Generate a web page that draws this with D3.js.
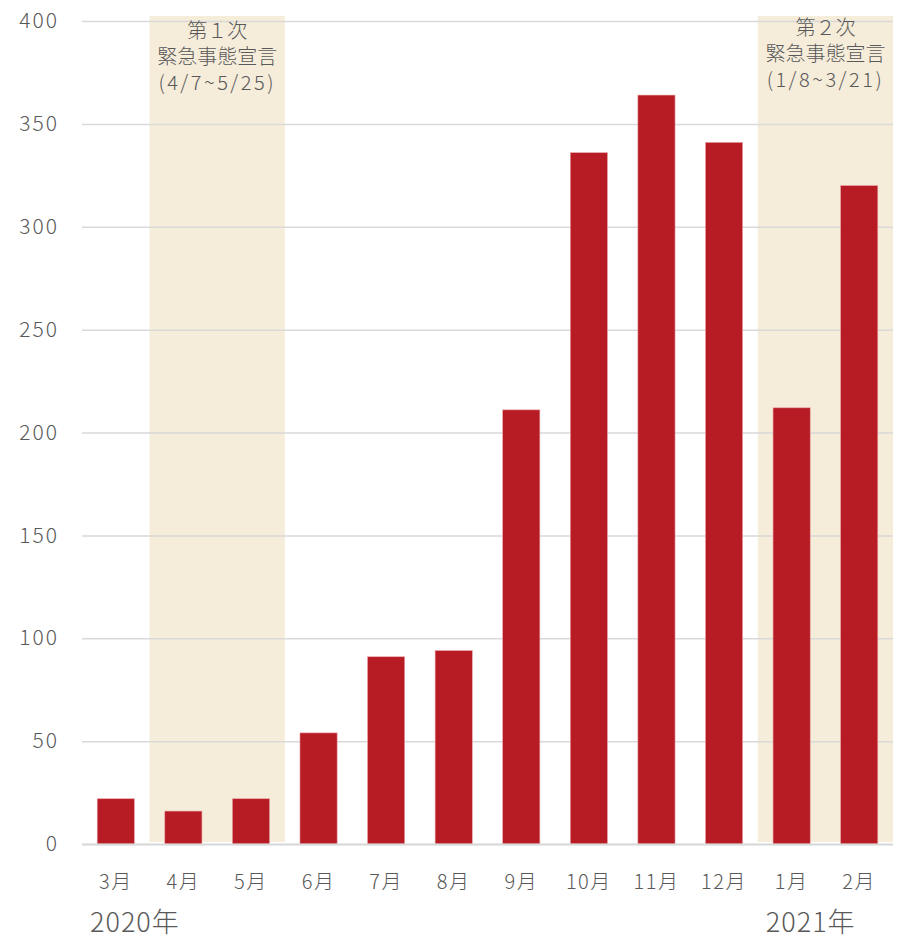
<!DOCTYPE html>
<html>
<head>
<meta charset="utf-8">
<script src="https://cdn.jsdelivr.net/npm/d3@7"></script>
<style>
  html, body { margin: 0; padding: 0; background: #ffffff; }
  svg { display: block; font-family: "Noto Sans CJK JP", "Noto Sans", sans-serif; }
</style>
</head>
<body>
<svg id="chart" width="901" height="937"></svg>
<script>
// Monthly counts, March 2020 – February 2021
const months = ["3月", "4月", "5月", "6月", "7月", "8月", "9月", "10月", "11月", "12月", "1月", "2月"];
const counts = [22, 16, 22, 54, 91, 94, 211, 336, 364, 341, 212, 320];
const yTicks = [0, 50, 100, 150, 200, 250, 300, 350, 400];

// State-of-emergency periods (first and last month covered) and their labels
const periodStart = ["4月", "1月"];
const periodEnd = ["5月", "2月"];
const periodLines = [
  ["第１次", "緊急事態宣言", "(4/7~5/25)"],
  ["第２次", "緊急事態宣言", "(1/8~3/21)"]
];

// Year markers placed under the first month of each year
const yearMonths = ["3月", "1月"];
const yearLabels = ["2020年", "2021年"];

const svg = d3.select("#chart");
const margin = { left: 82, right: 8, top: 21, bottom: 93 };
const W = 901, H = 937;
const textColor = "#595959";

const x = d3.scaleBand()
  .domain(months)
  .range([margin.left, W - margin.right])
  .paddingInner(0.45)
  .paddingOuter(0.225);

const y = d3.scaleLinear()
  .domain([0, 400])
  .range([H - margin.bottom, margin.top]);

const step = x.step();
const gap = step * x.paddingInner() / 2;

// Shaded emergency periods
const periods = periodStart.map((s, i) => ({ s, e: periodEnd[i], lines: periodLines[i] }));
svg.append("g")
  .selectAll("rect")
  .data(periods)
  .join("rect")
  .attr("x", d => x(d.s) - gap)
  .attr("width", d => x(d.e) + x.bandwidth() + gap - (x(d.s) - gap))
  .attr("y", y(400) - 5)
  .attr("height", y(0) - 2 - (y(400) - 5))
  .attr("fill", "#F5ECD9");

// Horizontal gridlines
const grid = svg.append("g")
  .attr("transform", `translate(${margin.left},0)`)
  .call(d3.axisLeft(y).tickValues(yTicks).tickSize(-(W - margin.right - margin.left)).tickFormat(""));
grid.select(".domain").remove();
grid.selectAll(".tick line").attr("stroke", "#D9D9D9").attr("stroke-width", 1.5);

// Y axis labels
const yAxis = svg.append("g")
  .attr("transform", `translate(${margin.left - 23},0)`)
  .call(d3.axisLeft(y).tickValues(yTicks).tickSize(0).tickPadding(0));
yAxis.select(".domain").remove();
yAxis.selectAll("text")
  .attr("font-size", 21)
  .attr("font-weight", 300)
  .attr("letter-spacing", 2)
  .attr("fill", textColor)
  .attr("font-family", "\"Noto Sans CJK JP\", sans-serif");

// Bars
svg.append("g")
  .selectAll("rect")
  .data(counts)
  .join("rect")
  .attr("x", (d, i) => x(months[i]))
  .attr("width", x.bandwidth())
  .attr("y", d => y(d))
  .attr("height", d => y(0) - y(d))
  .attr("fill", "#B71C24")
  .attr("stroke", "#E8A3A6")
  .attr("stroke-width", 0.6);

// Baseline
svg.append("line")
  .attr("x1", margin.left)
  .attr("x2", W - margin.right)
  .attr("y1", y(0) + 0.5)
  .attr("y2", y(0) + 0.5)
  .attr("stroke", "#D9D9D9")
  .attr("stroke-width", 2);

// X axis labels
const xAxis = svg.append("g")
  .attr("transform", `translate(0,${y(0)})`)
  .call(d3.axisBottom(x).tickSize(0).tickPadding(0));
xAxis.select(".domain").remove();
xAxis.selectAll("text")
  .attr("dy", null)
  .attr("y", 45)
  .attr("font-size", 20)
  .attr("font-weight", 300)
  .attr("letter-spacing", 1.5)
  .attr("fill", textColor)
  .attr("font-family", "\"Noto Sans CJK JP\", sans-serif");

// Year labels
svg.append("g")
  .selectAll("text")
  .data(yearLabels)
  .join("text")
  .attr("x", (d, i) => x(yearMonths[i]) - gap + 8)
  .attr("y", y(0) + 88)
  .attr("font-size", 27)
  .attr("font-weight", 300)
  .attr("letter-spacing", 1)
  .attr("fill", textColor)
  .text(d => d);

// Period annotations, one text per line
const annLines = periods.flatMap((d, i) => d.lines.map((t, j) => ({
  t, j, i, cx: (x(d.s) + x(d.e) + x.bandwidth()) / 2
})));
svg.append("g")
  .selectAll("text")
  .data(annLines)
  .join("text")
  .attr("x", d => d.cx)
  .attr("y", d => (d.i === 0 ? 38 : 35) + d.j * 26)
  .attr("text-anchor", "middle")
  .attr("font-size", 20)
  .attr("font-weight", 300)
  .attr("letter-spacing", d => d.j === 2 ? 2.5 : 0)
  .attr("fill", textColor)
  .text(d => d.t);
</script>
</body>
</html>
